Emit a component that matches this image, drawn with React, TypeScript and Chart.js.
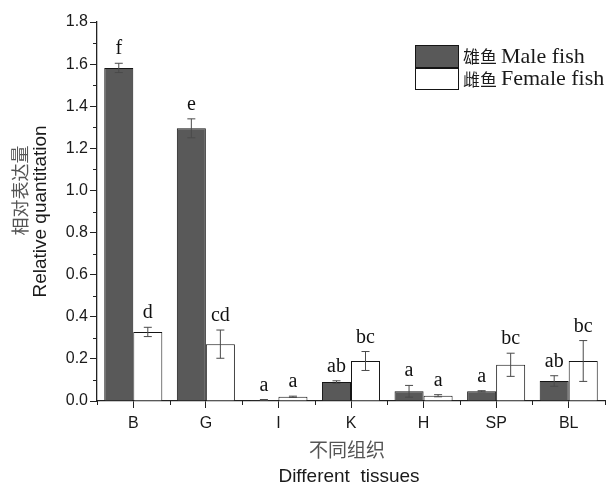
import React, { useEffect, useRef } from "react";
import { Chart, registerables } from "chart.js";

Chart.register(...registerables);

const categories = ["B", "G", "I", "K", "H", "SP", "BL"];
const maleValues = [1.582, 1.295, 0.005, 0.09, 0.046, 0.046, 0.095];
const maleErrors = [0.022, 0.045, 0.002, 0.006, 0.028, 0.003, 0.025];
const femaleValues = [0.328, 0.27, 0.02, 0.19, 0.025, 0.172, 0.19];
const femaleErrors = [0.022, 0.067, 0.003, 0.045, 0.005, 0.055, 0.097];
const maleLetters = ["f", "e", "a", "ab", "a", "a", "ab"];
const femaleLetters = ["d", "cd", "a", "bc", "a", "bc", "bc"];
const legendCn = ["雄鱼", "雌鱼"];
const legendEn = ["Male fish", "Female fish"];
const yTitleCn = "相对表达量";
const yTitleEn = "Relative quantitation";
const xTitleCn = "不同组织";
const xTitleEn = "Different  tissues";

const MALE_FILL = "#595959";
const FEMALE_FILL = "#ffffff";
const EDGE = "#151515";
const CJK = '"Noto Sans CJK SC", "Noto Sans", sans-serif';
const SANS = '"Liberation Sans", Arial, sans-serif';
const SERIF = '"Liberation Serif", "Times New Roman", serif';

const decorPlugin = {
  id: "decor",
  afterDatasetsDraw(chart: any) {
    const ctx = chart.ctx;
    const y = chart.scales.y;
    const x = chart.scales.x;
    const area = chart.chartArea;
    const errs = [maleErrors, femaleErrors];
    const vals = [maleValues, femaleValues];
    const letters = [maleLetters, femaleLetters];
    ctx.save();
    // error bars and letters
    for (let d = 0; d < 2; d++) {
      const meta = chart.getDatasetMeta(d);
      meta.data.forEach((bar: any, i: number) => {
        const v = vals[d][i];
        const e = errs[d][i];
        const top = y.getPixelForValue(v + e);
        const bot = y.getPixelForValue(Math.max(v - e, 0));
        ctx.strokeStyle = "#4a4a4a";
        ctx.lineWidth = 1;
        ctx.beginPath();
        ctx.moveTo(bar.x, top);
        ctx.lineTo(bar.x, bot);
        ctx.moveTo(bar.x - 4, top);
        ctx.lineTo(bar.x + 4, top);
        ctx.moveTo(bar.x - 4, bot);
        ctx.lineTo(bar.x + 4, bot);
        ctx.stroke();
        ctx.fillStyle = "#111";
        ctx.font = "20px " + SERIF;
        ctx.textAlign = "center";
        ctx.textBaseline = "alphabetic";
        ctx.fillText(letters[d][i], bar.x, top - 9);
      });
    }
    // minor ticks
    ctx.strokeStyle = "#222";
    ctx.lineWidth = 1;
    ctx.beginPath();
    for (let k = 1; k < 18; k += 2) {
      const py = Math.round(y.getPixelForValue(k / 10)) + 0.5;
      ctx.moveTo(area.left - 4, py);
      ctx.lineTo(area.left, py);
    }
    const n = categories.length;
    for (let i = 0; i <= n; i++) {
      const px = Math.round(x.getPixelForValue(i - 0.5)) + 0.5;
      ctx.moveTo(px, area.bottom);
      ctx.lineTo(px, area.bottom + 4);
    }
    ctx.stroke();
    // legend
    const boxes = [
      [415, 45, 43, 22],
      [415, 68, 43, 21],
    ];
    const fills = [MALE_FILL, FEMALE_FILL];
    for (let i = 0; i < 2; i++) {
      const [bx, by, bw, bh] = boxes[i];
      ctx.fillStyle = fills[i];
      ctx.fillRect(bx, by, bw, bh);
      ctx.strokeStyle = EDGE;
      ctx.lineWidth = 1;
      ctx.strokeRect(bx + 0.5, by + 0.5, bw, bh);
      const cy = by + bh / 2 + 1;
      ctx.fillStyle = "#1a1a1a";
      ctx.textAlign = "left";
      ctx.textBaseline = "middle";
      ctx.font = "17px " + CJK;
      ctx.fillText(legendCn[i], 463, cy);
      const w = ctx.measureText(legendCn[i]).width;
      ctx.font = "22px " + SERIF;
      ctx.fillText(legendEn[i], 463 + w + 4, cy);
    }
    // axis titles
    ctx.textAlign = "center";
    ctx.textBaseline = "middle";
    const midY = (area.top + area.bottom) / 2;
    ctx.save();
    ctx.translate(20, midY - 21);
    ctx.rotate(-Math.PI / 2);
    ctx.fillStyle = "#555";
    ctx.font = "18px " + CJK;
    ctx.fillText(yTitleCn, 0, 0);
    ctx.restore();
    ctx.save();
    ctx.translate(41, midY);
    ctx.rotate(-Math.PI / 2);
    ctx.fillStyle = "#1a1a1a";
    ctx.font = "19px " + SANS;
    ctx.fillText(yTitleEn, 0, 0);
    ctx.restore();
    const midX = (area.left + area.right) / 2;
    ctx.fillStyle = "#555";
    ctx.font = "19px " + CJK;
    ctx.fillText(xTitleCn, midX - 4, 450);
    ctx.fillStyle = "#1a1a1a";
    ctx.font = "19px " + SANS;
    ctx.fillText(xTitleEn, midX - 2, 477);
    ctx.restore();
  },
};

export default function App() {
  const ref = useRef<HTMLCanvasElement | null>(null);
  useEffect(() => {
    if (!ref.current) return;
    const chart = new Chart(ref.current, {
      type: "bar",
      data: {
        labels: categories,
        datasets: [
          {
            label: legendEn[0],
            data: maleValues,
            backgroundColor: MALE_FILL,
            borderColor: EDGE,
            borderWidth: 1,
            categoryPercentage: 0.8,
            barPercentage: 1.0,
          },
          {
            label: legendEn[1],
            data: femaleValues,
            backgroundColor: FEMALE_FILL,
            borderColor: EDGE,
            borderWidth: 1,
            categoryPercentage: 0.8,
            barPercentage: 1.0,
          },
        ],
      },
      options: {
        responsive: false,
        animation: false,
        devicePixelRatio: 1,
        layout: { padding: { top: 22, right: 6, left: 0, bottom: 0 } },
        plugins: {
          legend: { display: false },
          tooltip: { enabled: false },
        },
        scales: {
          x: {
            afterFit: (s: any) => {
              s.height = 87;
            },
            grid: {
              display: true,
              offset: false,
              drawOnChartArea: false,
              drawTicks: true,
              tickLength: 7,
              color: "#222",
            },
            border: { display: true, color: "#222", width: 1.3 },
            ticks: {
              color: "#1a1a1a",
              font: { family: SANS, size: 16 },
              padding: 6,
            },
          },
          y: {
            min: 0,
            max: 1.8,
            afterFit: (s: any) => {
              s.width = 97;
            },
            grid: {
              display: true,
              drawOnChartArea: false,
              drawTicks: true,
              tickLength: 7,
              color: "#222",
            },
            border: { display: true, color: "#222", width: 1.3 },
            ticks: {
              stepSize: 0.2,
              color: "#1a1a1a",
              font: { family: SANS, size: 16 },
              padding: 2,
              callback: (v: any) => Number(v).toFixed(1),
            },
          },
        },
      },
      plugins: [decorPlugin],
    });
    return () => chart.destroy();
  }, []);
  return (
    <div style={{ position: "fixed", left: 0, top: 0, width: 611, height: 488, background: "#fff" }}>
      <canvas ref={ref} width={611} height={488} style={{ display: "block" }} />
    </div>
  );
}
